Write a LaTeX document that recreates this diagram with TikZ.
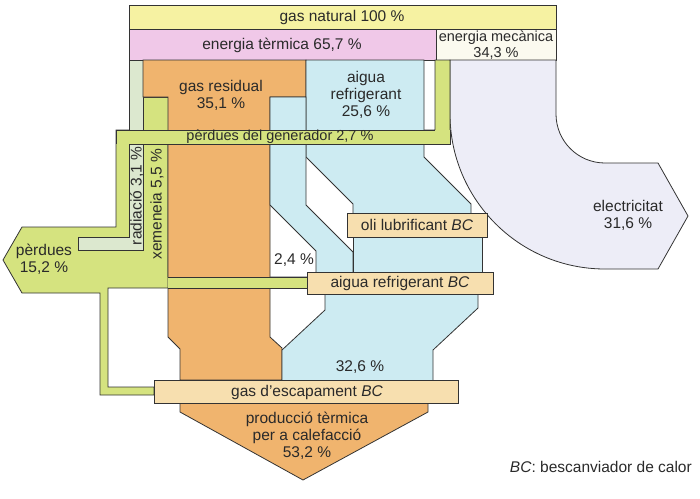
\documentclass[tikz,border=0pt]{standalone}
\usepackage{fontspec}
\setmainfont{Liberation Sans}
\definecolor{cGas}{HTML}{F6F2A2}
\definecolor{cPink}{HTML}{F0C8E8}
\definecolor{cMech}{HTML}{FBFAEF}
\definecolor{cOrange}{HTML}{F0B46E}
\definecolor{cBlue}{HTML}{CDEBF2}
\definecolor{cGreen}{HTML}{D5E37F}
\definecolor{cRad}{HTML}{DCE8CF}
\definecolor{cElec}{HTML}{EDEDF7}
\definecolor{cBC}{HTML}{F7DFAF}
\definecolor{cLine}{HTML}{333333}
\definecolor{cText}{HTML}{2A2A2A}
\tikzset{
  flow/.style={draw=cLine,line width=0.8pt,line join=miter},
  edge/.style={draw=cLine,line width=0.8pt},
  lbl/.style={text=cText,font=\fontsize{15.5}{17}\selectfont,inner sep=0pt,align=center},
  bcbox/.style={flow,fill=cBC}
}
\begin{document}
\begin{tikzpicture}[x=1pt,y=-1pt]
\useasboundingbox (0,0) rectangle (700,498);
% top bars
\path[flow,fill=cGas] (129,5) rectangle (556,29);
\path[flow,fill=cPink] (129,29) rectangle (436,60);
\path[flow,fill=cMech] (436,29) rectangle (556,60);
% electricity
\path[flow,fill=cElec] (450,60) -- (450,114) .. controls (450,199.6) and (519.4,269) .. (605,269)
  -- (658,269) -- (688,216) -- (658,163) -- (605,163)
  .. controls (577.9,163) and (556,141.1) .. (556,114) -- (556,60) -- cycle;
% green losses
\path[flow,fill=cGreen] (435,60) -- (450,60) -- (450,144) -- (168,144) -- (168,277) -- (307,277)
  -- (307,288) -- (108,288) -- (108,387) -- (154,387) -- (154,395) -- (100,395) -- (100,293)
  -- (22,293) -- (3,260) -- (22,227) -- (116,227) -- (116,130) -- (435,130) -- cycle;
% radiacio
\path[flow,fill=cRad] (129,60) -- (143,60) -- (143,250) -- (78,250) -- (78,237) -- (129,237) -- cycle;
% xemeneia top
\path[flow,fill=cGreen] (143,97) rectangle (168,135);
% gas residual
\path[flow,fill=cOrange] (143,60) -- (306,60) -- (306,97) -- (270,97) -- (270,337) -- (282,348)
  -- (282,380) -- (180,380) -- (180,349) -- (168,337) -- (168,97) -- (143,97) -- cycle;
% aigua refrigerant main
\path[flow,fill=cBlue] (306,60) -- (424,60) -- (424,157) -- (471,204) -- (471,215) -- (353,215)
  -- (353,204) -- (306,157) -- cycle;
% 2,4 band
\path[flow,fill=cBlue] (270,97) -- (306,97) -- (306,205) -- (353,252) -- (353,274) -- (316,274)
  -- (316,251) -- (270,205) -- cycle;
% oli outflow
\path[flow,fill=cBlue] (353,235) rectangle (482,274);
% 32,6 band
\path[flow,fill=cBlue] (325,292) -- (478,292) -- (478,308) -- (433,350) -- (433,382) -- (282,382)
  -- (282,350) -- (325,310) -- cycle;
% green band over orange
\fill[cGreen] (168,277) rectangle (307,288);
\draw[edge] (168,277) -- (307,277) (168,288) -- (307,288);
% generator loss bar
\fill[cGreen] (116,130) rectangle (450,144);
\draw[edge] (435,130) -- (116,130) -- (116,144) (129,144) -- (450,144) -- (450,130);
% output arrow
\path[flow,fill=cOrange] (180,400) -- (428,400) -- (428,412) -- (303,480) -- (180,412) -- cycle;
% BC boxes
\path[bcbox] (347,213) rectangle (487,237);
\path[bcbox] (307,272) rectangle (493,294);
\path[bcbox] (154,380) rectangle (458,403);
% labels
\node[lbl] (tGas) at (342,17) {gas natural 100 \%};
\node[lbl] (tTerm) at (282,45) {energia tèrmica 65,7 \%};
\node[lbl,font=\fontsize{14.5}{15.5}\selectfont] (tMech) at (496,45) {energia mecànica\\34,3 \%};
\node[lbl] (tRes) at (221,95) {gas residual\\35,1 \%};
\node[lbl] (tAig) at (366,95) {aigua\\refrigerant\\25,6 \%};
\node[lbl,font=\fontsize{14.5}{16}\selectfont] (tGen) at (280,137) {pèrdues del generador 2,7 \%};
\node[lbl,rotate=90] (tRad) at (137,196) {radiació 3,1 \%};
\node[lbl,rotate=90] (tXem) at (157,204) {xemeneia 5,5 \%};
\node[lbl] (tPer) at (44,259) {pèrdues\\15,2 \%};
\node[lbl] (tOli) at (417,225) {oli lubrificant \textit{BC}};
\node[lbl] (t24) at (294,260) {2,4 \%};
\node[lbl] (tAigBC) at (400,283) {aigua refrigerant \textit{BC}};
\node[lbl] (t326) at (360,367) {32,6 \%};
\node[lbl] (tEsc) at (307,392) {gas d’escapament \textit{BC}};
\node[lbl] (tProd) at (307,436) {producció tèrmica\\per a calefacció\\53,2 \%};
\node[lbl] (tElec) at (628,215) {electricitat\\31,6 \%};
\node[lbl,anchor=east] (tLeg) at (692,467) {\textit{BC}: bescanviador de calor};
\end{tikzpicture}
\end{document}
